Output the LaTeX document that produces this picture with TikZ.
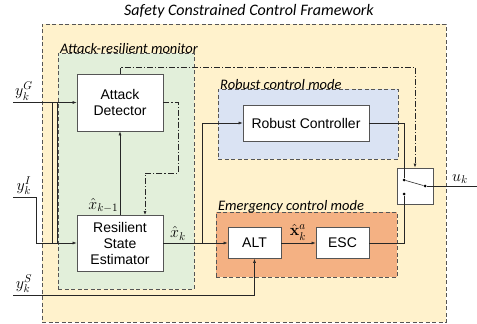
\RequirePackage{fix-cm}
\documentclass[tikz,border=0pt]{standalone}
\usepackage[no-math]{fontspec}
\setmainfont{Liberation Sans}
\newfontfamily\lblfont{Carlito}
\usepackage{amsmath}
\usetikzlibrary{arrows.meta}
\definecolor{outerfill}{HTML}{FFF2CC}
\definecolor{greenfill}{HTML}{E2EFDA}
\definecolor{bluefill}{HTML}{DAE3F3}
\definecolor{orangefill}{HTML}{F4B183}
\definecolor{framecol}{HTML}{555555}
\definecolor{boxcol}{HTML}{555555}
\begin{document}
\begin{tikzpicture}[x=1pt,y=-1pt,
  region/.style={draw=framecol, dash pattern=on 4pt off 2.5pt, line width=0.8pt, inner sep=0pt},
  blk/.style={draw=boxcol, fill=white, line width=0.8pt, inner sep=0pt, align=center,
    font=\fontsize{14}{16}\selectfont},
  lbl/.style={font=\lblfont\itshape\fontsize{14.5}{16}\selectfont, inner sep=1pt},
  sig/.style={line width=0.6pt, draw=black!85},
  arr/.style={sig, -{Latex[length=4pt,width=3pt]}},
  dd/.style={line width=0.7pt, draw=black!85, dash pattern=on 6pt off 2pt on 1.2pt off 2pt},
  ddarr/.style={dd, -{Latex[length=4pt,width=3pt]}},
  mth/.style={font=\fontsize{16}{17}\selectfont, inner sep=1pt},
  dot/.style={circle, fill=black, inner sep=0pt, minimum size=3pt}]
\useasboundingbox (0,0) rectangle (477,324);
% regions
\node[region, fill=outerfill, minimum width=404pt, minimum height=298pt] (outer) at (244,173) {};
\node[region, fill=greenfill, minimum width=136pt, minimum height=236pt] (green) at (126,171) {};
\node[region, fill=bluefill, minimum width=180pt, minimum height=70pt] (blue) at (308,124) {};
\node[region, fill=orangefill, minimum width=181pt, minimum height=65pt] (orange) at (306.5,244.5) {};
% labels
\node[lbl, font=\lblfont\itshape\fontsize{16}{18}\selectfont] (title) at (249,11) {Safety Constrained Control Framework};
\node[lbl, anchor=south west] (lgreen) at (59,55) {Attack-resilient monitor};
\node[lbl, anchor=south west] (lblue) at (219,91) {Robust control mode};
\node[lbl, anchor=south west] (lorange) at (217,214) {Emergency control mode};
% blocks
\node[blk, minimum width=86pt, minimum height=57pt] (det) at (120,102.5) {Attack\\Detector};
\node[blk, minimum width=86pt, minimum height=56pt] (est) at (120,243) {Resilient\\State\\Estimator};
\node[blk, minimum width=126pt, minimum height=36pt] (rc) at (306,123) {Robust Controller};
\node[blk, minimum width=53pt, minimum height=31pt] (alt) at (254.5,243) {ALT};
\node[blk, minimum width=53pt, minimum height=31pt] (esc) at (342.5,243) {ESC};
\node[blk, minimum width=36pt, minimum height=36pt] (sw) at (415,186) {};
\node[dot] (s1) at (404,180) {};
\node[dot] (s2) at (404,194) {};
\node[dot] (s3) at (425,186) {};
% free ends
\coordinate (yG) at (13,102.5);
\coordinate (yI) at (13,197);
\coordinate (yS) at (13,295);
\coordinate (uk) at (477,186);
% inputs
\draw[arr] (yG) -- (det.west);
\node[mth, anchor=south] (lyG) at (24,101.5) {$y_k^G$};
\draw[arr] (yI) -- (36,197) -- (36,243) -- (est.west);
\node[mth, anchor=south] (lyI) at (24,196) {$y_k^I$};
\draw[sig] (52,102.5) -- (52,243);
\draw[sig] (57.5,102.5) -- (57.5,243);
\draw[arr] (yS) -- (alt.south |- yS) -- (alt.south);
\node[mth, anchor=south] (lyS) at (24,294) {$y_k^S$};
% estimator/detector
\draw[arr] (est.north) -- (det.south);
\node[mth, anchor=south east] (lxk1) at (119.5,214) {$\hat{x}_{k-1}$};
\draw[ddarr] (det.east) -- (178,102.5) -- (178,173) -- (145,173) -- (145,215);
\draw[ddarr] (det.north) -- (120,67) -- (415,67) -- (sw.north);
% estimator outputs
\draw[arr] (est.east) -- (alt.west);
\node[mth, anchor=south] (lxk) at (178,241.5) {$\hat{x}_k$};
\draw[arr] (202,243) -- (202,123) -- (rc.west);
\draw[arr] (alt.east) -- (esc.west);
\node[mth, anchor=south] (lxa) at (298,241.5) {$\hat{\mathbf{x}}_k^a$};
% to switch
\draw[sig] (rc.east) -- (404,123) -- (s1);
\draw[sig] (esc.east) -- (404,243) -- (s2);
\draw[sig] (s1) -- (s3);
\draw[sig] (s3) -- (uk);
\node[mth, anchor=south] (luk) at (460,185) {$u_k$};
\end{tikzpicture}
\end{document}
